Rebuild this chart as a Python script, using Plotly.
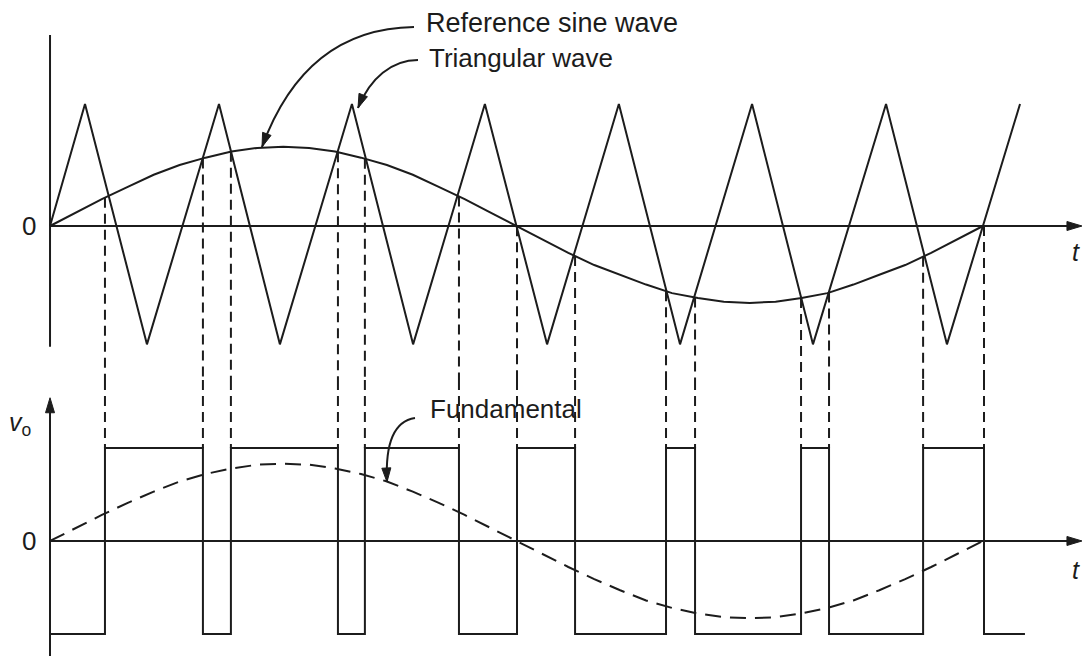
import numpy as np
import plotly.graph_objects as go

# ---------------- data (time in degrees of the reference sine) ----------------
sine_t = list(range(0, 361, 10))
sine_v = [0, .11, .22, .32, .42, .50, .56, .61, .64, .65, .64, .61, .56, .50, .42, .32, .22, .11, 0,
          -.11, -.22, -.32, -.40, -.48, -.55, -.59, -.62, -.63, -.62, -.59, -.55, -.48, -.40, -.32, -.22, -.11, 0]
fund_v = [0, .14, .28, .41, .53, .64, .72, .78, .82, .83, .82, .78, .72, .64, .53, .41, .28, .14, 0,
          -.14, -.28, -.41, -.53, -.64, -.72, -.78, -.82, -.83, -.82, -.78, -.72, -.64, -.53, -.41, -.28, -.14, 0]
tri_t = [0, 13.5, 37.4, 65.2, 88.7, 116.5, 140.1, 167.8, 191.8, 219.5, 243.1, 270.9, 294.4, 322.6, 346.1, 374.3]
tri_v = [0, 1, -0.97, 1, -0.97, 1, -0.97, 1, -0.97, 1, -0.97, 1, -0.97, 1, -0.97, 1]
switch_t = [21.2, 59.0, 69.8, 111.1, 121.5, 157.8, 180.2, 202.6, 237.7, 248.9, 289.8, 300.6, 336.9, 360.4]
pwm_t = [0] + switch_t + [376.2]
pwm_v = [-1, 1, -1, 1, -1, 1, -1, 1, -1, 1, -1, 1, -1, 1, -1, -1]

W, H = 1083, 656
INK = "#1c1c1c"
FONT = "Liberation Sans, Arial, sans-serif"
split = 1 - 380 / H
Y1_RANGE = [-1.262, 1.852]
Y2_RANGE = [-1.237, 1.731]
X_RANGE = [-19.3, 398.6]
X_TIP = 398.2

fig = go.Figure()

# top: sine and triangle
fig.add_trace(go.Scatter(x=sine_t, y=sine_v, mode="lines", line=dict(color=INK, width=2),
                         xaxis="x", yaxis="y", hoverinfo="skip"))
fig.add_trace(go.Scatter(x=tri_t, y=tri_v, mode="lines", line=dict(color=INK, width=2),
                         xaxis="x", yaxis="y", hoverinfo="skip"))

# dashed projection lines
sw_sine = np.interp(switch_t, sine_t, sine_v)
xt, yt, xb, yb = [], [], [], []
for t, s in zip(switch_t, sw_sine):
    xt += [t, t, None]; yt += [s, Y1_RANGE[0], None]
    xb += [t, t, None]; yb += [Y2_RANGE[1], 1, None]
dash = "10px,6px"
fig.add_trace(go.Scatter(x=xt, y=yt, mode="lines", line=dict(color=INK, width=2, dash=dash),
                         xaxis="x", yaxis="y", hoverinfo="skip", connectgaps=False))
fig.add_trace(go.Scatter(x=xb, y=yb, mode="lines", line=dict(color=INK, width=2, dash=dash),
                         xaxis="x", yaxis="y2", hoverinfo="skip", connectgaps=False))

# bottom: PWM output and fundamental
fig.add_trace(go.Scatter(x=pwm_t, y=pwm_v, mode="lines", line=dict(color=INK, width=2, shape="hv"),
                         xaxis="x", yaxis="y2", hoverinfo="skip"))
fig.add_trace(go.Scatter(x=sine_t, y=fund_v, mode="lines", line=dict(color=INK, width=2, dash="16px,9px"),
                         xaxis="x", yaxis="y2", hoverinfo="skip"))


def P(px, py):
    return px / W, 1 - py / H


def bez(pts):
    (x0, y0), (x1, y1), (x2, y2), (x3, y3) = [P(*p) for p in pts]
    return f"M {x0},{y0} C {x1},{y1} {x2},{y2} {x3},{y3}"


def head(tip, frm, L=14.0, w=4.5):
    tx, ty = tip
    dx, dy = tx - frm[0], ty - frm[1]
    n = (dx * dx + dy * dy) ** 0.5
    dx, dy = dx / n, dy / n
    bx, by = tx - L * dx, ty - L * dy
    px_, py_ = -dy, dx
    pts = [(tx, ty), (bx + w * px_, by + w * py_), (bx - w * px_, by - w * py_)]
    pp = [P(*p) for p in pts]
    return "M {},{} L {},{} L {},{} Z".format(*[c for p in pp for c in p])


line_style = dict(color=INK, width=2)
head_style = dict(fillcolor=INK, line=dict(color=INK, width=1))
curves = [
    [(414, 27), (345, 28), (292, 65), (262, 147)],
    [(418, 60), (392, 60), (370, 78), (358, 108)],
    [(415, 418), (395, 421), (385, 440), (387, 482)],
]
shapes = [
    # axes
    dict(type="line", xref="x", yref="y", x0=0, x1=0, y0=-0.99, y1=1.566, line=line_style),
    dict(type="line", xref="x", yref="y", x0=0, x1=X_TIP - 3, y0=0, y1=0, line=line_style),
    dict(type="line", xref="x", yref="y2", x0=0, x1=X_TIP - 3, y0=0, y1=0, line=line_style),
    dict(type="line", xref="x", yref="y2", x0=0, x1=0, y0=Y2_RANGE[0], y1=1.50, line=line_style),
    dict(type="path", xref="x", yref="y", xsizemode="pixel", ysizemode="pixel", xanchor=X_TIP, yanchor=0,
         path="M 0,0 L -15,4.5 L -15,-4.5 Z", **head_style),
    dict(type="path", xref="x", yref="y2", xsizemode="pixel", ysizemode="pixel", xanchor=X_TIP, yanchor=0,
         path="M 0,0 L -15,4.5 L -15,-4.5 Z", **head_style),
    dict(type="path", xref="x", yref="y2", xsizemode="pixel", ysizemode="pixel", xanchor=0, yanchor=1.54,
         path="M 0,0 L -4.5,-15 L 4.5,-15 Z", **head_style),
]
for c in curves:
    shapes.append(dict(type="path", xref="paper", yref="paper", path=bez(c), line=line_style))
    shapes.append(dict(type="path", xref="paper", yref="paper", path=head(c[3], c[2]), **head_style))

txt = dict(family=FONT, size=27, color=INK)
ann = [
    dict(x=144.3, y=1.664, xref="x", yref="y", text="Reference sine wave", showarrow=False,
         xanchor="left", yanchor="middle", font=txt),
    dict(x=145.6, y=1.38, xref="x", yref="y", text="Triangular wave", showarrow=False,
         xanchor="left", yanchor="middle", font=dict(family=FONT, size=26, color=INK)),
    dict(x=145.9, y=1.419, xref="x", yref="y2", text="Fundamental", showarrow=False,
         xanchor="left", yanchor="middle", font=dict(family=FONT, size=26, color=INK)),
    dict(x=-8.1, y=0, xref="x", yref="y", text="0", showarrow=False, xanchor="center", yanchor="middle",
         font=dict(family=FONT, size=26, color=INK)),
    dict(x=-8.1, y=0, xref="x", yref="y2", text="0", showarrow=False, xanchor="center", yanchor="middle",
         font=dict(family=FONT, size=26, color=INK)),
    dict(x=-11.6, y=1.26, xref="x", yref="y2", text="<i>v</i><sub>o</sub>", showarrow=False,
         xanchor="center", yanchor="middle", font=dict(family=FONT, size=25, color=INK)),
    dict(x=396.0, y=-0.21, xref="x", yref="y", text="<i>t</i>", showarrow=False,
         xanchor="center", yanchor="middle", font=dict(family=FONT, size=25, color=INK)),
    dict(x=396.0, y=-0.31, xref="x", yref="y2", text="<i>t</i>", showarrow=False,
         xanchor="center", yanchor="middle", font=dict(family=FONT, size=25, color=INK)),
]

fig.update_layout(
    width=W, height=H, margin=dict(l=0, r=0, t=0, b=0),
    paper_bgcolor="white", plot_bgcolor="white", showlegend=False,
    xaxis=dict(range=X_RANGE, visible=False, anchor="y"),
    yaxis=dict(range=Y1_RANGE, domain=[split, 1], visible=False, anchor="x"),
    yaxis2=dict(range=Y2_RANGE, domain=[0, split], visible=False, anchor="x"),
    shapes=shapes, annotations=ann,
)

fig.write_html("out.html", config={"displayModeBar": False},
               post_script="document.body.style.margin='0';document.body.style.overflow='hidden';")
